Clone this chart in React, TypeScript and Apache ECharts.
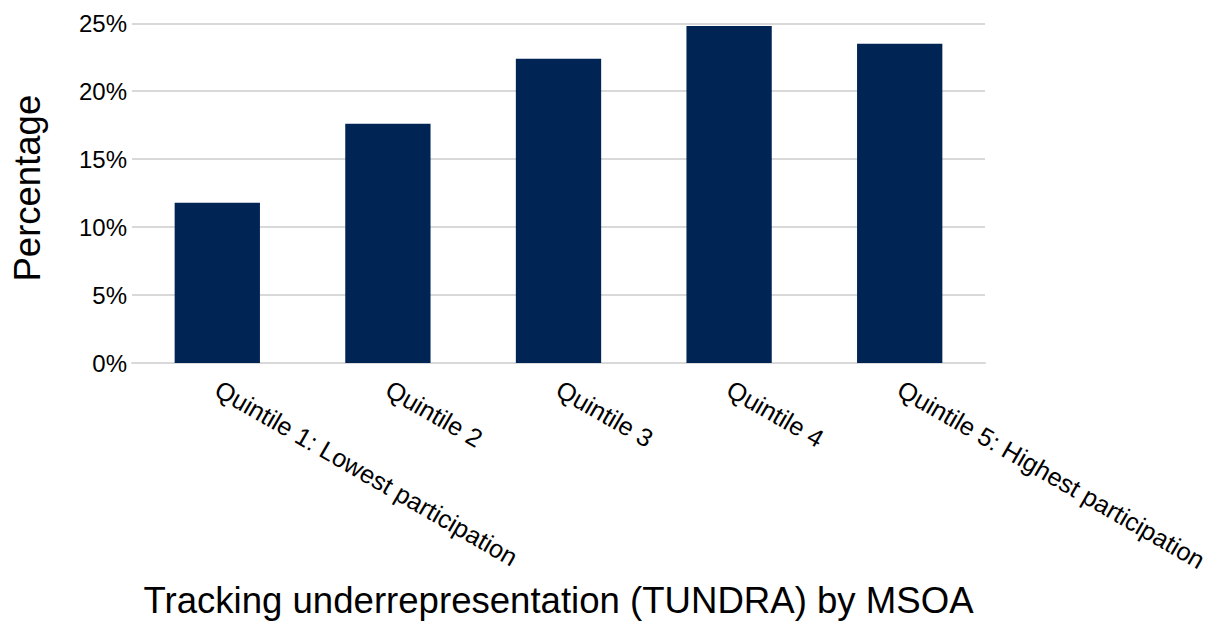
import React, { useEffect, useRef } from "react";
import * as echarts from "echarts";

const categories = [
  "Quintile 1: Lowest participation",
  "Quintile 2",
  "Quintile 3",
  "Quintile 4",
  "Quintile 5: Highest participation",
];
const values = [11.8, 17.6, 22.4, 24.8, 23.5];
const yTicks = [0, 5, 10, 15, 20, 25];

const FONT = "Liberation Sans, Arial, sans-serif";

export default function App() {
  const ref = useRef<HTMLDivElement>(null);
  useEffect(() => {
    if (!ref.current) return;
    const chart = echarts.init(ref.current, undefined, { renderer: "svg" });
    chart.setOption({
      animation: false,
      backgroundColor: "#ffffff",
      grid: {
        left: 132,
        right: 234,
        top: 23.3,
        bottom: 261,
        containLabel: false,
        outerBoundsMode: "none",
      },
      xAxis: {
        type: "category",
        data: categories,
        name: "Tracking underrepresentation (TUNDRA) by MSOA",
        nameLocation: "middle",
        nameGap: 219,
        nameTextStyle: { fontFamily: FONT, fontSize: 36.6, color: "#000" },
        axisLine: { show: true, lineStyle: { color: "#d9d9d9", width: 2 } },
        axisTick: { show: false },
        axisLabel: {
          rotate: -30,
          interval: 0,
          margin: 24,
          fontFamily: FONT,
          fontSize: 25.3,
          color: "#000",
        },
      },
      yAxis: {
        type: "value",
        min: yTicks[0],
        max: yTicks[yTicks.length - 1],
        interval: 5,
        name: "Percentage",
        nameLocation: "middle",
        nameGap: 86,
        nameRotate: 90,
        nameTextStyle: { fontFamily: FONT, fontSize: 36.5, color: "#000", padding: [0, 0, 0, 10] },
        axisLine: { show: false },
        axisTick: { show: false },
        splitLine: { show: true, lineStyle: { color: "#d9d9d9", width: 2 } },
        axisLabel: {
          formatter: (v: number) => `${v}%`,
          fontFamily: FONT,
          fontSize: 24,
          color: "#000",
          margin: 5,
        },
      },
      series: [
        {
          type: "bar",
          data: values,
          barWidth: "50%",
          itemStyle: { color: "#002554" },
        },
      ],
    });
    return () => chart.dispose();
  }, []);
  return (
    <div
      ref={ref}
      style={{ position: "fixed", left: 0, top: 0, width: 1219, height: 624, background: "#fff" }}
    />
  );
}
